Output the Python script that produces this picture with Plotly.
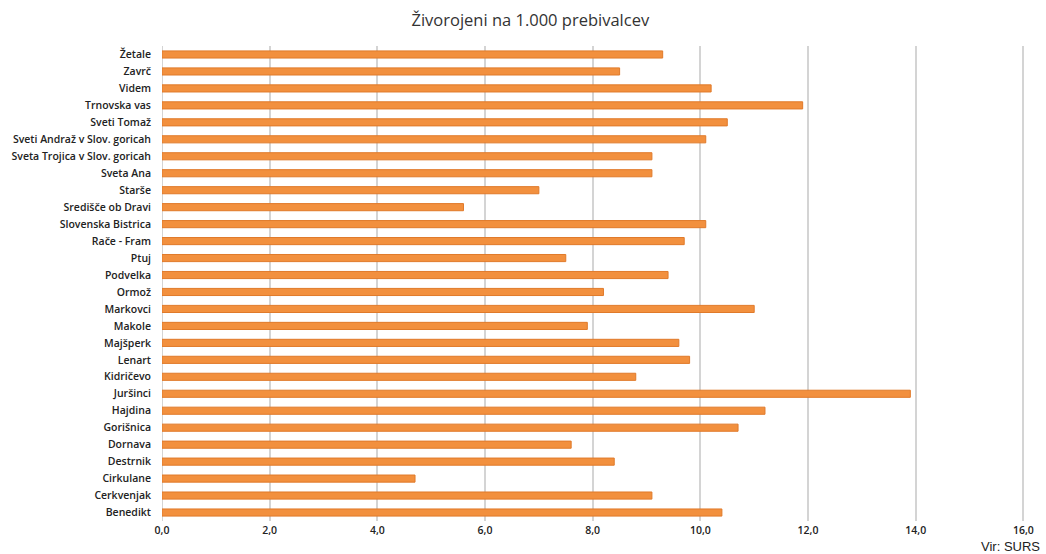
import plotly.graph_objects as go

categories = ["Benedikt", "Cerkvenjak", "Cirkulane", "Destrnik", "Dornava", "Gorišnica",
              "Hajdina", "Juršinci", "Kidričevo", "Lenart", "Majšperk", "Makole",
              "Markovci", "Ormož", "Podvelka", "Ptuj", "Rače - Fram", "Slovenska Bistrica",
              "Središče ob Dravi", "Starše", "Sveta Ana", "Sveta Trojica v Slov. goricah",
              "Sveti Andraž v Slov. goricah", "Sveti Tomaž", "Trnovska vas", "Videm",
              "Zavrč", "Žetale"]
values = [10.4, 9.1, 4.7, 8.4, 7.6, 10.7,
          11.2, 13.9, 8.8, 9.8, 9.6, 7.9,
          11.0, 8.2, 9.4, 7.5, 9.7, 10.1,
          5.6, 7.0, 9.1, 9.1,
          10.1, 10.5, 11.9, 10.2,
          8.5, 9.3]
tick_vals = [0, 2, 4, 6, 8, 10, 12, 14, 16]

fig = go.Figure(go.Bar(
    x=values, y=categories, orientation="h",
    marker=dict(color="#F2903E", line=dict(color="#E07A2A", width=1)),
))

fig.update_layout(
    width=1046, height=554,
    margin=dict(l=162, r=18, t=46, b=33),
    paper_bgcolor="white", plot_bgcolor="white",
    separators=",.",
    bargap=0.58,
    showlegend=False,
    title=dict(text="Živorojeni na 1.000 prebivalcev", x=0.507, xanchor="center",
               y=0.963, yanchor="middle",
               font=dict(family="Open Sans", size=16.5, color="#333333")),
    font=dict(family="Open Sans", color="#222222"),
)
fig.update_xaxes(
    range=[0, 16.03], tickvals=tick_vals, tickformat=".1f",
    showgrid=True, gridcolor="#D4D4D4", gridwidth=2,
    zeroline=False, showline=False, ticks="",
    tickfont=dict(family="Open Sans", size=10.5, color="#222222", weight=600),
    ticklabelstandoff=1,
)
fig.update_yaxes(
    categoryorder="array", categoryarray=categories,
    showgrid=False, zeroline=False, showline=False, ticks="",
    tickfont=dict(family="Open Sans", size=10.5, color="#222222", weight=600),
    ticklabelstandoff=10,
)
fig.add_shape(type="line", xref="x", yref="paper", x0=0, x1=0, y0=0, y1=1,
              line=dict(color="#D4D4D4", width=2), layer="below")
fig.add_annotation(text="Vir: SURS", xref="paper", yref="paper",
                   x=1.0185, y=-0.0715, xanchor="right", yanchor="bottom",
                   showarrow=False, borderpad=0,
                   font=dict(family="Liberation Sans", size=13, color="#222222"))

fig.write_html("out.html", config={"displayModeBar": False},
               post_script="document.body.style.margin='0';")
